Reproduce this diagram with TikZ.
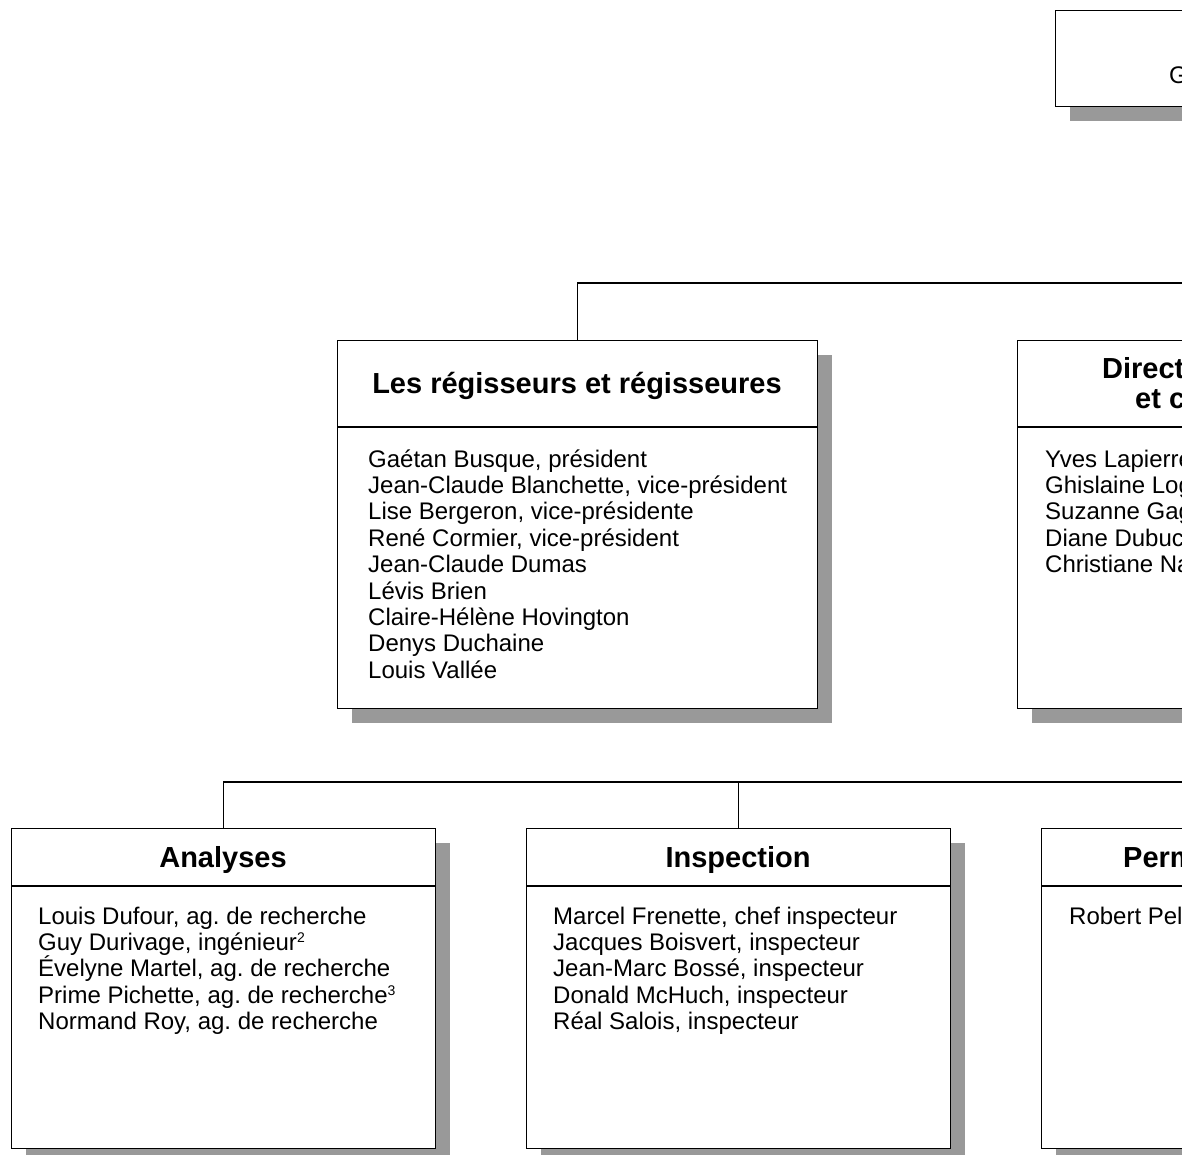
\documentclass[tikz,border=0pt]{standalone}
\usepackage{fontspec}
\setmainfont{Liberation Sans}
\usetikzlibrary{shadows}
\frenchspacing
\definecolor{shadowgray}{HTML}{999999}
\newcommand{\bodyfont}{\fontsize{24}{26.4}\selectfont}
\newcommand{\titlefont}{\fontsize{29}{30}\selectfont\bfseries}
\newcommand{\supnum}[1]{\raisebox{8pt}{\fontsize{14}{14}\selectfont #1}}
\begin{document}
\begin{tikzpicture}[x=1pt,y=-1pt,
  orgbox/.style={draw=black, line width=1.3pt, fill=white, anchor=north west, inner sep=0pt,
    drop shadow={shadow xshift=14pt, shadow yshift=-14pt, fill=shadowgray, opacity=1}},
  titletext/.style={anchor=base, inner sep=0pt, font=\titlefont},
  titlepart/.style={anchor=base west, inner sep=0pt, font=\titlefont},
  bodytext/.style={anchor=base west, inner sep=0pt, font=\bodyfont},
  link/.style={draw=black, line width=1.2pt},
  divider/.style={draw=black, line width=1.1pt}]
\useasboundingbox (0,0) rectangle (1182,1154);
\clip (0,0) rectangle (1182,1154);
\fill[white] (0,0) rectangle (1182,1154);

% top box (cut off)
\node[orgbox, minimum width=400pt, minimum height=96pt] (top) at (1055,10) {};
\node[bodytext] (topG) at (1169,83) {G};

% connectors
\coordinate (topR) at (1200,283);
\coordinate (lowR) at (1200,782);

% regisseurs
\node[orgbox, minimum width=480pt, minimum height=368pt] (reg) at (337,340) {};
\draw[divider] ([yshift=-87pt]reg.north west) -- ([yshift=-87pt]reg.north east);
\node[titletext] (regT) at (577,393) {Les régisseurs et régisseures};
\node[bodytext] (regB) at (368,467) {\parbox[t]{440pt}{\bodyfont
Gaétan Busque, président\\
Jean-Claude Blanchette, vice-président\\
Lise Bergeron, vice-présidente\\
René Cormier, vice-président\\
Jean-Claude Dumas\\
Lévis Brien\\
Claire-Hélène Hovington\\
Denys Duchaine\\
Louis Vallée}};

% direction box (cut off)
\node[orgbox, minimum width=480pt, minimum height=368pt] (dir) at (1017,340) {};
\draw[divider] ([yshift=-87pt]dir.north west) -- ([yshift=-87pt]dir.north east);
\node[titlepart] (dirT1) at (1102,378) {Direct};
\node[titlepart] (dirT2) at (1135,408) {et c};
\node[bodytext] (dirB) at (1045,467) {\parbox[t]{440pt}{\bodyfont
Yves Lapierre\\
Ghislaine Log\\
Suzanne Gag\\
Diane Dubuc\\
Christiane Na}};

% lower row
\node[orgbox, minimum width=424pt, minimum height=320pt] (ana) at (11,828) {};
\draw[divider] ([yshift=-58pt]ana.north west) -- ([yshift=-58pt]ana.north east);
\node[titletext] (anaT) at (223,867) {Analyses};
\node[bodytext] (anaB) at (38,924) {\parbox[t]{400pt}{\bodyfont
Louis Dufour, ag. de recherche\\
Guy Durivage, ingénieur\supnum{2}\\
Évelyne Martel, ag. de recherche\\
Prime Pichette, ag. de recherche\supnum{3}\\
Normand Roy, ag. de recherche}};

\node[orgbox, minimum width=424pt, minimum height=320pt] (insp) at (526,828) {};
\draw[divider] ([yshift=-58pt]insp.north west) -- ([yshift=-58pt]insp.north east);
\node[titletext] (inspT) at (738,867) {Inspection};
\node[bodytext] (inspB) at (553,924) {\parbox[t]{400pt}{\bodyfont
Marcel Frenette, chef inspecteur\\
Jacques Boisvert, inspecteur\\
Jean-Marc Bossé, inspecteur\\
Donald McHuch, inspecteur\\
Réal Salois, inspecteur}};

\node[orgbox, minimum width=424pt, minimum height=320pt] (perm) at (1041,828) {};
\draw[divider] ([yshift=-58pt]perm.north west) -- ([yshift=-58pt]perm.north east);
\node[titlepart] (permT) at (1123,867) {Perm};
\node[bodytext] (permB) at (1069,924) {Robert Pel};

% connector lines
\draw[link] (reg.north) |- (topR);
\draw[link] (ana.north) |- (lowR);
\draw[link] (insp.north) -- (insp.north |- lowR);
\end{tikzpicture}
\end{document}
